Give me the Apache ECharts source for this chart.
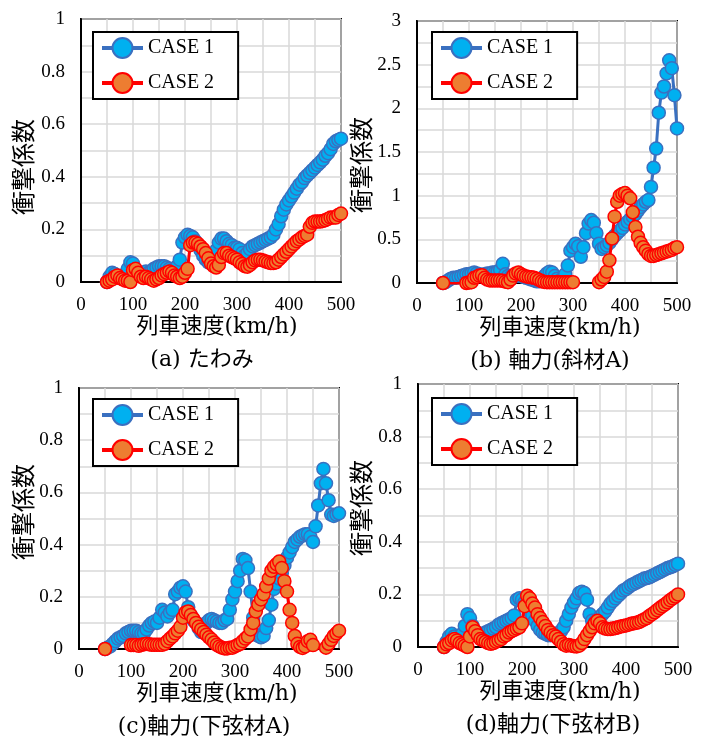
<!DOCTYPE html>
<html><head><meta charset="utf-8">
<script src="https://cdn.jsdelivr.net/npm/echarts@6/dist/echarts.min.js"></script>
<style>html,body{margin:0;padding:0;background:#fff}#c{width:708px;height:736px}</style>
</head><body><div id="c"></div>
<script>
const speeds = [50,55,60,65,70,75,80,85,90,95,
  100,105,110,115,120,125,130,135,140,145,
  150,155,160,165,170,175,180,185,190,195,
  200,205,210,215,220,225,230,235,240,245,
  250,255,260,265,270,275,280,285,290,295,
  300,305,310,315,320,325,330,335,340,345,
  350,355,360,365,370,375,380,385,390,395,
  400,405,410,415,420,425,430,435,440,445,
  450,455,460,465,470,475,480,485,490,495,500];
const seriesNames = ['CASE 1','CASE 2'];
const xTicks = [0,100,200,300,400,500];
const captions = ['(a) たわみ','(b) 軸力(斜材A)','(c)軸力(下弦材A)','(d)軸力(下弦材B)'];
const xName = '列車速度(km/h)';
const yName = '衝撃係数';
const yMax = [1,3,1,1];
const yStep = [0.2,0.5,0.2,0.2];

// (a) deflection
const a1 = [0,0.02,0.035,0.03,0.02,0.015,0.02,0.03,0.05,0.075,
  0.07,0.045,0.035,0.03,0.035,0.04,0.035,0.04,0.05,0.055,
  0.06,0.06,0.06,0.055,0.05,0.045,0.04,0.06,0.085,0.15,
  0.17,0.18,0.175,0.17,0.155,0.14,0.12,0.1,0.085,0.075,
  0.075,0.09,0.12,0.15,0.165,0.165,0.155,0.145,0.14,0.13,
  0.13,0.125,0.11,0.1,0.11,0.125,0.135,0.14,0.145,0.15,
  0.155,0.16,0.165,0.17,0.18,0.2,0.22,0.25,0.275,0.295,
  0.31,0.325,0.34,0.355,0.37,0.38,0.395,0.405,0.415,0.425,
  0.435,0.445,0.455,0.465,0.48,0.49,0.505,0.525,0.535,0.54,0.545];
const a2 = [0,0.005,0.01,0.02,0.025,0.015,0.01,0.005,0.005,0,
  0.045,0.05,0.035,0.02,0.015,0.02,0.015,0.01,0.005,0.01,
  0.015,0.025,0.03,0.035,0.04,0.035,0.025,0.02,0.015,0.02,
  0.035,0.05,0.14,0.15,0.15,0.145,0.135,0.125,0.11,0.09,
  0.07,0.06,0.055,0.065,0.095,0.11,0.11,0.1,0.095,0.09,
  0.085,0.075,0.068,0.06,0.058,0.065,0.075,0.082,0.085,0.085,
  0.082,0.078,0.075,0.072,0.072,0.075,0.085,0.095,0.105,0.115,
  0.125,0.135,0.145,0.155,0.162,0.17,0.175,0.18,0.21,0.225,
  0.23,0.23,0.23,0.232,0.235,0.24,0.245,0.245,0.245,0.255,0.26];
// (b) axial force, diagonal A
const b1 = [0,0.01,0.03,0.05,0.06,0.06,0.07,0.08,0.09,0.1,
  0.1,0.11,0.12,0.11,0.1,0.09,0.1,0.11,0.11,0.12,
  0.12,0.13,0.15,0.22,0.1,0.08,0.07,0.07,0.08,0.09,
  0.08,0.07,0.06,0.05,0.04,0.03,0.02,0.02,0.04,0.08,
  0.11,0.13,0.12,0.08,0.05,0.03,0.05,0.1,0.2,0.37,
  0.41,0.45,0.42,0.3,0.41,0.57,0.68,0.72,0.69,0.57,
  0.45,0.39,0.41,0.43,0.46,0.5,0.54,0.57,0.6,0.63,
  0.67,0.7,0.73,0.76,0.79,0.83,0.87,0.9,0.93,0.95,
  1.1,1.32,1.54,1.95,2.18,2.25,2.4,2.55,2.46,2.15,1.77];
const b2 = [0,-0.005,-0.005,-0.005,-0.005,-0.005,-0.005,-0.005,-0.005,0,
  0.005,0.01,0.06,0.07,0.085,0.09,0.06,0.04,0.03,0.03,
  0.03,0.03,0.03,0.025,0.015,0.01,0.04,0.085,0.11,0.12,
  0.1,0.085,0.075,0.07,0.065,0.06,0.05,0.035,0.02,0.012,
  0.01,0.01,0.01,0.01,0.01,0.01,0.01,0.01,0.01,0.01,
  0.01,-0.05,-0.05,-0.05,-0.05,-0.05,-0.05,-0.05,-0.05,-0.05,
  0.01,0.04,0.07,0.13,0.26,0.51,0.76,0.93,1.0,1.02,
  1.03,1.0,0.97,0.81,0.64,0.53,0.46,0.41,0.37,0.33,
  0.31,0.31,0.32,0.33,0.34,0.35,0.36,0.37,0.38,0.4,0.41];
// (c) axial force, lower chord A
const c1 = [0,0.005,0.01,0.02,0.03,0.04,0.045,0.05,0.06,0.065,
  0.07,0.07,0.07,0.065,0.06,0.06,0.075,0.09,0.1,0.105,
  0.1,0.12,0.15,0.14,0.125,0.14,0.15,0.21,0.22,0.235,
  0.24,0.22,0.16,0.13,0.11,0.1,0.08,0.065,0.07,0.1,
  0.11,0.115,0.11,0.105,0.1,0.1,0.11,0.115,0.15,0.19,
  0.22,0.26,0.3,0.345,0.34,0.31,0.22,0.12,0.055,0.05,
  0.045,0.05,0.08,0.11,0.17,0.23,0.25,0.27,0.29,0.32,
  0.35,0.37,0.39,0.41,0.42,0.43,0.435,0.44,0.44,0.43,
  0.41,0.47,0.55,0.635,0.69,0.635,0.57,0.515,0.51,0.515,0.52];
const c2 = [0,-0.03,-0.03,-0.03,-0.03,-0.03,-0.03,-0.03,-0.03,-0.02,
  0.015,0.015,0.015,0.012,0.016,0.018,0.02,0.018,0.016,0.016,
  0.016,0.016,0.016,0.02,0.03,0.04,0.048,0.06,0.07,0.085,
  0.12,0.14,0.144,0.13,0.115,0.1,0.085,0.075,0.065,0.055,
  0.045,0.036,0.025,0.016,0.01,0.005,0.002,0.002,0.005,0.005,
  0.01,0.015,0.02,0.03,0.04,0.048,0.075,0.1,0.144,0.17,
  0.19,0.21,0.24,0.27,0.3,0.315,0.325,0.335,0.31,0.26,
  0.22,0.15,0.1,0.05,0.02,0.008,0.004,0.01,0.03,0.035,
  0.015,-0.03,-0.05,-0.05,-0.03,0.005,0.02,0.035,0.05,0.06,0.07];
// (d) axial force, lower chord B
const d1 = [0,0.02,0.04,0.05,0.04,0.03,0.035,0.05,0.08,0.125,
  0.11,0.08,0.06,0.05,0.05,0.05,0.055,0.06,0.065,0.07,
  0.075,0.085,0.09,0.095,0.1,0.105,0.11,0.12,0.18,0.185,
  0.18,0.17,0.155,0.135,0.12,0.1,0.08,0.065,0.055,0.05,
  0.045,0.045,0.05,0.05,0.05,0.06,0.075,0.1,0.125,0.15,
  0.17,0.185,0.205,0.21,0.205,0.18,0.125,0.1,0.095,0.1,
  0.115,0.125,0.135,0.15,0.165,0.175,0.185,0.195,0.205,0.215,
  0.22,0.228,0.235,0.24,0.245,0.25,0.255,0.26,0.262,0.265,
  0.27,0.275,0.28,0.285,0.29,0.295,0.3,0.303,0.307,0.312,0.317];
const d2 = [0,0.01,0.015,0.025,0.03,0.025,0.015,0.01,0.005,0,
  0.04,0.075,0.06,0.045,0.03,0.025,0.02,0.015,0.012,0.015,
  0.02,0.025,0.03,0.04,0.045,0.055,0.06,0.065,0.07,0.075,
  0.09,0.155,0.195,0.185,0.165,0.15,0.125,0.11,0.095,0.08,
  0.065,0.055,0.045,0.04,0.03,0.02,0.01,0.005,0.008,0.005,
  0.003,0.002,0.005,0.015,0.03,0.045,0.06,0.075,0.09,0.1,
  0.09,0.075,0.07,0.068,0.068,0.07,0.072,0.075,0.078,0.08,
  0.082,0.085,0.088,0.09,0.092,0.095,0.1,0.105,0.11,0.118,
  0.125,0.132,0.14,0.148,0.155,0.162,0.17,0.178,0.185,0.192,0.2];

const panels = [[a1,a2],[b1,b2],[c1,c2],[d1,d2]];

// layout (pixels)
const grids = [
  {left:81, top:19, width:260, height:263},
  {left:417, top:21, width:260, height:262},
  {left:79, top:388, width:260, height:261},
  {left:418, top:384, width:260, height:263}
];
const legendPos = [[93,32],[432,32],[93,399],[432,398]];
const yNamePos = [[23,167],[361,165],[23,512],[361,508]];
const nameDx = [6,13,8,12];
const capDx = [-9,3,-5,5];

const SERIF = "'Liberation Serif', 'Times New Roman', serif";
const MIX = "'DejaVu Serif', 'Noto Sans CJK JP', serif";
const gridLine = {color:'#d9d9d9', width:1.5};
const styles = [
  {line:'#3A70C0', fill:'#00B0F0', border:'#3A70C0'},
  {line:'#FF0000', fill:'#ED7D31', border:'#FF0000'}
];

const option = {
  animation:false,
  backgroundColor:'#fff',
  grid: grids.map(g => Object.assign({show:true, borderColor:'#000', borderWidth:2, backgroundColor:'#fff', containLabel:false, outerBoundsMode:'none'}, g)),
  xAxis: grids.map((g,i) => ({
    type:'value', gridIndex:i, min:xTicks[0], max:xTicks[xTicks.length-1], interval:100,
    axisLine:{show:true, onZero:false, lineStyle:{color:'#000', width:2}},
    axisTick:{show:false},
    axisLabel:{color:'#000', fontFamily:SERIF, fontSize:19, margin:14},
    splitLine:{show:true, lineStyle:gridLine},
    minorTick:{show:false, splitNumber:2},
    minorSplitLine:{show:true, lineStyle:gridLine}
  })),
  yAxis: grids.map((g,i) => ({
    type:'value', gridIndex:i, min:0, max:yMax[i], interval:yStep[i],
    axisLine:{show:true, lineStyle:{color:'#000', width:2}},
    axisTick:{show:false},
    axisLabel:{color:'#000', fontFamily:SERIF, fontSize:19, margin:16},
    splitLine:{show:true, lineStyle:gridLine},
    minorTick:{show:false, splitNumber:2},
    minorSplitLine:{show:true, lineStyle:gridLine}
  })),
  legend: legendPos.map(p => ({
    left:p[0], top:p[1], orient:'vertical', data:seriesNames,
    itemWidth:41, itemHeight:25, itemGap:13, padding:[5,24,5,7],
    borderColor:'#000', borderWidth:2, backgroundColor:'#fff',
    selectedMode:false,
    lineStyle:{width:4},
    itemStyle:{borderWidth:2},
    textStyle:{color:'#000', fontFamily:SERIF, fontSize:20}
  })),
  series: [],
  graphic: []
};

panels.forEach((pair, i) => {
  pair.forEach((vals, k) => {
    const st = styles[k];
    option.series.push({
      name: seriesNames[k], type:'line', xAxisIndex:i, yAxisIndex:i,
      data: speeds.map((s, j) => [s, vals[j]]),
      symbol:'circle', symbolSize:13, clip:true,
      lineStyle:{color:st.line, width:3},
      itemStyle:{color:st.fill, borderColor:st.border, borderWidth:1.5},
      emphasis:{disabled:true}, z: 2 + k
    });
  });
  const g = grids[i];
  const cx = g.left + g.width/2;
  const bottom = g.top + g.height;
  option.graphic.push({
    type:'text', x: cx + nameDx[i], y: bottom + 45,
    style:{text:xName, fontSize:22, fontFamily:MIX, fill:'#000', align:'center', verticalAlign:'middle'}
  });
  option.graphic.push({
    type:'text', x: cx + capDx[i], y: bottom + 78,
    style:{text:captions[i], fontSize:22, fontFamily:MIX, fill:'#000', align:'center', verticalAlign:'middle'}
  });
  option.graphic.push({
    type:'text', x: yNamePos[i][0], y: yNamePos[i][1], rotation: Math.PI/2,
    style:{text:yName, fontSize:24, fontFamily:"'Noto Sans CJK JP', sans-serif", fill:'#000', align:'center', verticalAlign:'middle'}
  });
});

const chart = echarts.init(document.getElementById('c'), null, {renderer:'canvas'});
chart.setOption(option);
</script>
</body></html>
